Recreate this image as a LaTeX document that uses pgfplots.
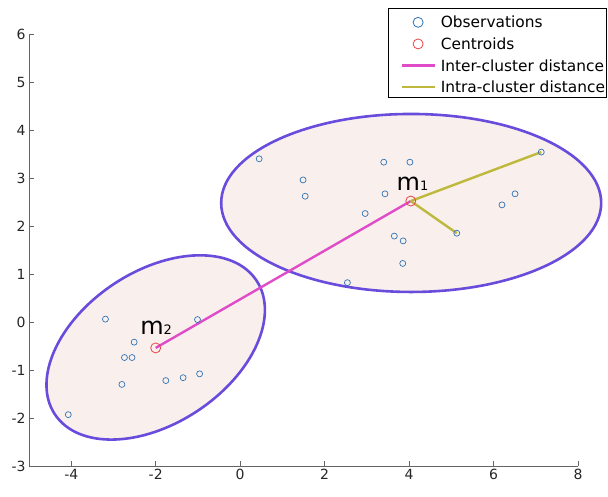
\documentclass[border=0pt]{standalone}
\usepackage{fontspec}
\setmainfont{DejaVu Sans}
\usepackage{pgfplots}
\pgfplotsset{compat=1.18}
\definecolor{obs}{RGB}{50,115,180}
\definecolor{cen}{RGB}{230,70,70}
\definecolor{inter}{RGB}{224,76,200}
\definecolor{intra}{RGB}{190,185,60}
\definecolor{ecol}{RGB}{106,76,220}
\definecolor{efill}{RGB}{249,240,238}
\definecolor{axcol}{RGB}{100,100,100}
\pgfplotsset{
  mylegline/.style={legend image code/.code={\path[draw=none] (-13pt,-2pt) -- (33pt,-2pt); \draw[##1, line width=2.4pt] (0pt,-2pt) -- (33pt,-2pt);}},
  mylegmark/.style={legend image code/.code={\path[draw=none] (-13pt,-2pt) -- (33pt,-2pt); \draw[##1, line width=0.8pt, mark size=5pt] plot coordinates {(16.5pt,-2pt)};}},
}
\begin{document}
\begin{tikzpicture}
\begin{axis}[
  at={(0,0)}, anchor=south west,
  scale only axis, width=549pt, height=432pt,
  xmin=-5, xmax=8, ymin=-3, ymax=6,
  axis x line*=bottom, axis y line*=left,
  x axis line style={-}, y axis line style={-},
  axis line style={axcol, line width=0.7pt},
  xtick={-4,-2,0,2,4,6,8}, xticklabels={-4,-2,0,2,4,6,8},
  ytick={-3,-2,-1,0,1,2,3,4,5,6}, yticklabels={-3,-2,-1,0,1,2,3,4,5,6},
  tick align=inside, major tick length=5pt,
  tick style={axcol, line width=0.7pt},
  ticklabel style={font=\fontsize{14}{14}\selectfont, text=black!85},
  clip=false,
  legend cell align=left,
  legend style={at={(axis description cs:0.6545,1.0613)}, anchor=north west,
    draw=black, line width=0.6pt, fill=white, font=\fontsize{15.4}{15.4}\selectfont,
    inner xsep=0pt, inner ysep=5pt, row sep=6.6pt, column sep=4pt,
    nodes={inner xsep=1pt, inner ysep=0pt, text height=15pt, text depth=0pt}},
]
\draw[ecol, line width=2.6pt, fill=efill] (axis cs:4.05,2.48) ellipse [x radius=190pt, y radius=89pt];
\draw[ecol, line width=2.6pt, fill=efill, rotate around={33.6:(axis cs:-2.0,-0.53)}] (axis cs:-2.0,-0.53) ellipse [x radius=121pt, y radius=76pt];

\addplot[inter, line width=2.4pt, forget plot] coordinates {(-2.0,-0.54) (4.04,2.52)};
\addplot[intra, line width=2.4pt, forget plot] coordinates {(4.04,2.52) (7.13,3.54)};
\addplot[intra, line width=2.4pt, forget plot] coordinates {(4.04,2.52) (5.13,1.85)};

\addplot[only marks, mark=o, mark size=3pt, obs, line width=0.7pt, forget plot] coordinates {
(0.45,3.40) (1.49,2.96) (1.54,2.62) (3.40,3.33) (4.02,3.33) (3.43,2.67) (2.96,2.26)
(3.65,1.79) (3.86,1.69) (3.85,1.22) (2.54,0.82) (5.13,1.85) (6.20,2.44) (6.51,2.67) (7.13,3.54)
(-3.19,0.06) (-1.01,0.05) (-2.51,-0.42) (-2.74,-0.74) (-2.56,-0.74) (-2.80,-1.30)
(-1.76,-1.22) (-1.35,-1.16) (-0.96,-1.08) (-4.07,-1.93)
};
\addplot[only marks, mark=o, mark size=5pt, cen, line width=0.8pt, forget plot] coordinates {(4.04,2.52) (-2.0,-0.54)};

\node[anchor=base, inner sep=0pt, font=\fontsize{24}{24}\selectfont] at (axis cs:4.08,2.73) {m{\fontsize{13}{13}\selectfont 1}};
\node[anchor=base, inner sep=0pt, font=\fontsize{24}{24}\selectfont] at (axis cs:-1.99,-0.27) {m{\fontsize{13}{13}\selectfont 2}};

\addlegendimage{only marks, mark=o, obs, mylegmark}
\addlegendentry{Observations}
\addlegendimage{only marks, mark=o, cen, mylegmark}
\addlegendentry{Centroids}
\addlegendimage{inter, mylegline}
\addlegendentry{Inter-cluster distance}
\addlegendimage{intra, mylegline}
\addlegendentry{Intra-cluster distance}
\end{axis}
\pgfresetboundingbox
\useasboundingbox (-29pt,-30pt) rectangle (579pt,466pt);
\end{tikzpicture}
\end{document}
